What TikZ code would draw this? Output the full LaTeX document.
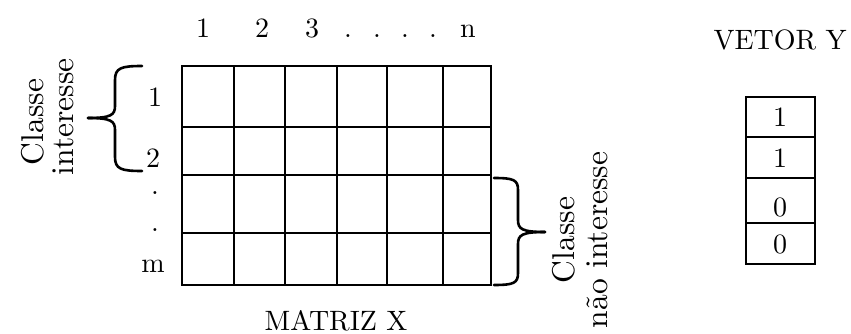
\documentclass[tikz,border=0pt]{standalone}
\usepackage{fontspec}
\setmainfont{lmroman10-regular.otf}
\begin{document}
\begin{tikzpicture}[x=1pt,y=-1pt,
  lbl/.style={font=\fontsize{28}{31}\selectfont, inner sep=0pt},
  rlbl/.style={font=\fontsize{31.5}{36}\selectfont, inner sep=0pt, rotate=90},
  outer/.style={line width=2.8pt},
  inner/.style={line width=1.3pt},
  brace/.style={line width=2.6pt, line cap=round}]
\useasboundingbox (0,0) rectangle (851,334);
% matrix grid
\foreach \x in {234,285,337,387,443} \draw[inner] (\x,66) -- (\x,285);
\foreach \y in {127,175,233} \draw[inner] (182,\y) -- (491,\y);
\draw[outer] (182,66) rectangle (491,285);
% column labels
\node[lbl, anchor=base] (c1) at (203,38) {1};
\node[lbl, anchor=base] (c2) at (262,38) {2};
\node[lbl, anchor=base] (c3) at (312,38) {3};
\node[lbl, anchor=base] (cd1) at (348,38) {.};
\node[lbl, anchor=base] (cd2) at (377,38) {.};
\node[lbl, anchor=base] (cd3) at (405,38) {.};
\node[lbl, anchor=base] (cd4) at (433,38) {.};
\node[lbl, anchor=base] (cn) at (468,38) {n};
% row labels
\node[lbl, anchor=base] (r1) at (155,107) {1};
\node[lbl, anchor=base] (r2) at (153,167) {2};
\node[lbl, anchor=base] (rd1) at (155,194) {.};
\node[lbl, anchor=base] (rd2) at (155,231) {.};
\node[lbl, anchor=base] (rm) at (153,272) {m};
% left brace
\draw[brace] (142,66) .. controls (121,66) and (115,68) .. (115,80) -- (115,106)
  .. controls (115,115) and (111,118) .. (88,118);
\draw[brace] (142,171) .. controls (121,171) and (115,169) .. (115,157) -- (115,130)
  .. controls (115,121) and (111,118) .. (88,118);
\node[rlbl] (li1) at (33,122) {Classe};
\node[rlbl] (li2) at (63,117) {interesse};
% right brace
\draw[brace] (494,178) .. controls (514,178) and (518,180) .. (518,190) -- (518,220)
  .. controls (518,229) and (522,232) .. (545,232);
\draw[brace] (494,285) .. controls (514,285) and (518,283) .. (518,273) -- (518,244)
  .. controls (518,235) and (522,232) .. (545,232);
\node[rlbl] (rn1) at (564,240) {Classe};
\node[rlbl] (rn2) at (597,240) {não interesse};
% matrix title
\node[lbl, anchor=base] (mt) at (336,330) {MATRIZ X};
% vector
\node[lbl, anchor=base] (vt) at (780,50) {VETOR Y};
\foreach \y in {137,178,223} \draw[inner] (746,\y) -- (815,\y);
\draw[outer] (746,97) rectangle (815,264);
\node[lbl, anchor=base] (v1) at (780,127) {1};
\node[lbl, anchor=base] (v2) at (780,167) {1};
\node[lbl, anchor=base] (v3) at (780,216) {0};
\node[lbl, anchor=base] (v4) at (780,253) {0};
\end{tikzpicture}
\end{document}
